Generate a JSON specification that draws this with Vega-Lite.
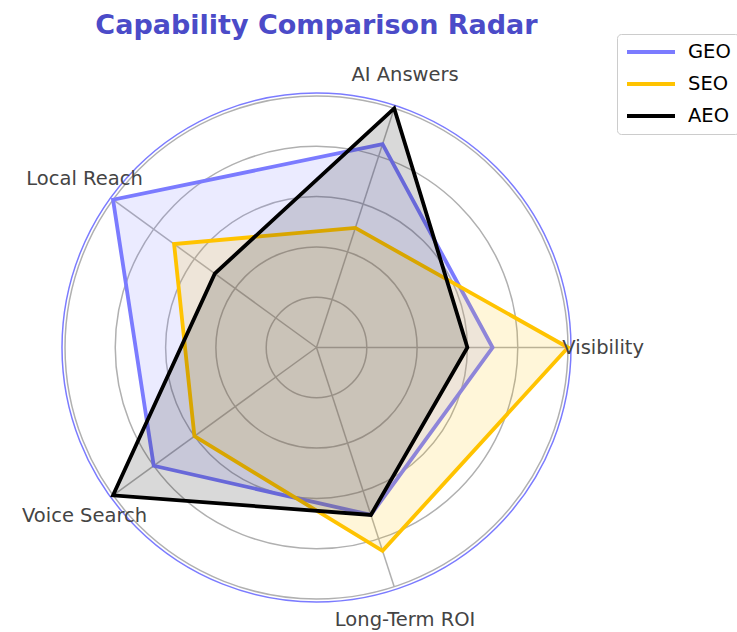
{
  "$schema": "https://vega.github.io/schema/vega-lite/v6.json",
  "width": 509,
  "height": 509,
  "autosize": {"type": "none"},
  "padding": {"left": 62, "top": 93, "right": 166, "bottom": 30},
  "background": "white",
  "config": {"view": {"stroke": null}, "font": "DejaVu Sans"},
  "title": {
    "text": "Capability Comparison Radar",
    "fontSize": 27,
    "fontWeight": "bold",
    "color": "#4B4BC8",
    "font": "DejaVu Sans",
    "anchor": "middle",
    "frame": "group",
    "baseline": "alphabetic",
    "offset": -27
  },
  "datasets": {
    "axes": [
      {"axis": "Visibility", "i": 0},
      {"axis": "AI Answers", "i": 1},
      {"axis": "Local Reach", "i": 2},
      {"axis": "Voice Search", "i": 3},
      {"axis": "Long-Term ROI", "i": 4}
    ],
    "rings": [{"r": 2}, {"r": 4}, {"r": 6}, {"r": 8}, {"r": 10}],
    "frame": [{"r": 10.12}],
    "scores": [
      {"tool": "GEO", "axis": "Visibility", "i": 0, "value": 7},
      {"tool": "GEO", "axis": "AI Answers", "i": 1, "value": 8.5},
      {"tool": "GEO", "axis": "Local Reach", "i": 2, "value": 10},
      {"tool": "GEO", "axis": "Voice Search", "i": 3, "value": 8},
      {"tool": "GEO", "axis": "Long-Term ROI", "i": 4, "value": 7},
      {"tool": "SEO", "axis": "Visibility", "i": 0, "value": 10},
      {"tool": "SEO", "axis": "AI Answers", "i": 1, "value": 5},
      {"tool": "SEO", "axis": "Local Reach", "i": 2, "value": 7},
      {"tool": "SEO", "axis": "Voice Search", "i": 3, "value": 6},
      {"tool": "SEO", "axis": "Long-Term ROI", "i": 4, "value": 8.5},
      {"tool": "AEO", "axis": "Visibility", "i": 0, "value": 6},
      {"tool": "AEO", "axis": "AI Answers", "i": 1, "value": 10},
      {"tool": "AEO", "axis": "Local Reach", "i": 2, "value": 5},
      {"tool": "AEO", "axis": "Voice Search", "i": 3, "value": 10},
      {"tool": "AEO", "axis": "Long-Term ROI", "i": 4, "value": 7}
    ]
  },
  "layer": [
    {
      "data": {"name": "rings"},
      "transform": [{"calculate": "1", "as": "full"}],
      "mark": {"type": "arc", "fill": null, "stroke": "#b0b0b0", "strokeWidth": 1.5},
      "encoding": {
        "theta": {"field": "full", "type": "quantitative", "stack": null, "scale": {"domain": [0, 1]}},
        "radius": {"field": "r", "type": "quantitative", "scale": {"type": "linear", "zero": true, "domain": [0, 10.12]}}
      }
    },
    {
      "data": {"name": "frame"},
      "transform": [{"calculate": "1", "as": "full"}],
      "mark": {"type": "arc", "fill": null, "stroke": "#7B7BFF", "strokeWidth": 1.5},
      "encoding": {
        "theta": {"field": "full", "type": "quantitative", "stack": null, "scale": {"domain": [0, 1]}},
        "radius": {"field": "r", "type": "quantitative", "scale": {"type": "linear", "zero": true, "domain": [0, 10.12]}}
      }
    },
    {
      "data": {"name": "axes"},
      "transform": [
        {"calculate": "datum.i * 2 * PI / 5", "as": "a"},
        {"calculate": "0", "as": "o"},
        {"calculate": "10 * cos(datum.a)", "as": "ex"},
        {"calculate": "10 * sin(datum.a)", "as": "ey"}
      ],
      "mark": {"type": "rule", "stroke": "#b0b0b0", "strokeWidth": 1.5},
      "encoding": {
        "x": {"field": "o", "type": "quantitative", "scale": {"domain": [-10.12, 10.12]}, "axis": null},
        "y": {"field": "o", "type": "quantitative", "scale": {"domain": [-10.12, 10.12]}, "axis": null},
        "x2": {"field": "ex"},
        "y2": {"field": "ey"}
      }
    },
    {
      "data": {"name": "scores"},
      "transform": [
        {"filter": "datum.tool === 'GEO'"},
        {"calculate": "datum.i * 2 * PI / 5", "as": "a"},
        {"calculate": "datum.value * cos(datum.a)", "as": "px"},
        {"calculate": "datum.value * sin(datum.a)", "as": "py"}
      ],
      "mark": {"type": "line", "interpolate": "linear-closed", "strokeWidth": 3.8, "fillOpacity": 0.15},
      "encoding": {
        "x": {"field": "px", "type": "quantitative", "scale": {"domain": [-10.12, 10.12]}, "axis": null},
        "y": {"field": "py", "type": "quantitative", "scale": {"domain": [-10.12, 10.12]}, "axis": null},
        "order": {"field": "i", "type": "quantitative"},
        "color": {"field": "tool", "type": "nominal", "scale": {"domain": ["GEO", "SEO", "AEO"], "range": ["#7B7BFF", "#FFC300", "#000000"]},
          "legend": {"title": null, "orient": "none", "legendX": 555, "legendY": -59, "symbolType": "stroke", "symbolSize": 2304, "symbolStrokeWidth": 4, "clipHeight": 20, "rowPadding": 12, "labelOffset": 11, "labelFontSize": 19.5, "labelColor": "#000000", "labelFont": "DejaVu Sans", "padding": 8, "strokeColor": "#cccccc", "fillColor": "rgba(255,255,255,0.8)", "cornerRadius": 4}},
        "fill": {"field": "tool", "type": "nominal", "scale": {"domain": ["GEO", "SEO", "AEO"], "range": ["#7B7BFF", "#FFC300", "#000000"]}, "legend": null}
      }
    },
    {
      "data": {"name": "scores"},
      "transform": [
        {"filter": "datum.tool === 'SEO'"},
        {"calculate": "datum.i * 2 * PI / 5", "as": "a"},
        {"calculate": "datum.value * cos(datum.a)", "as": "px"},
        {"calculate": "datum.value * sin(datum.a)", "as": "py"}
      ],
      "mark": {"type": "line", "interpolate": "linear-closed", "strokeWidth": 3.8, "fillOpacity": 0.15},
      "encoding": {
        "x": {"field": "px", "type": "quantitative", "scale": {"domain": [-10.12, 10.12]}, "axis": null},
        "y": {"field": "py", "type": "quantitative", "scale": {"domain": [-10.12, 10.12]}, "axis": null},
        "order": {"field": "i", "type": "quantitative"},
        "color": {"field": "tool", "type": "nominal"},
        "fill": {"field": "tool", "type": "nominal", "legend": null}
      }
    },
    {
      "data": {"name": "scores"},
      "transform": [
        {"filter": "datum.tool === 'AEO'"},
        {"calculate": "datum.i * 2 * PI / 5", "as": "a"},
        {"calculate": "datum.value * cos(datum.a)", "as": "px"},
        {"calculate": "datum.value * sin(datum.a)", "as": "py"}
      ],
      "mark": {"type": "line", "interpolate": "linear-closed", "strokeWidth": 3.8, "fillOpacity": 0.15},
      "encoding": {
        "x": {"field": "px", "type": "quantitative", "scale": {"domain": [-10.12, 10.12]}, "axis": null},
        "y": {"field": "py", "type": "quantitative", "scale": {"domain": [-10.12, 10.12]}, "axis": null},
        "order": {"field": "i", "type": "quantitative"},
        "color": {"field": "tool", "type": "nominal"},
        "fill": {"field": "tool", "type": "nominal", "legend": null}
      }
    },
    {
      "data": {"name": "axes"},
      "transform": [
        {"calculate": "datum.i * 2 * PI / 5", "as": "a"},
        {"calculate": "11.4 * cos(datum.a)", "as": "lx"},
        {"calculate": "11.4 * sin(datum.a)", "as": "ly"}
      ],
      "mark": {"type": "text", "align": "center", "baseline": "middle", "fontSize": 19.5, "font": "DejaVu Sans", "color": "#444444"},
      "encoding": {
        "x": {"field": "lx", "type": "quantitative", "scale": {"domain": [-10.12, 10.12]}, "axis": null},
        "y": {"field": "ly", "type": "quantitative", "scale": {"domain": [-10.12, 10.12]}, "axis": null},
        "text": {"field": "axis"}
      }
    }
  ]
}
